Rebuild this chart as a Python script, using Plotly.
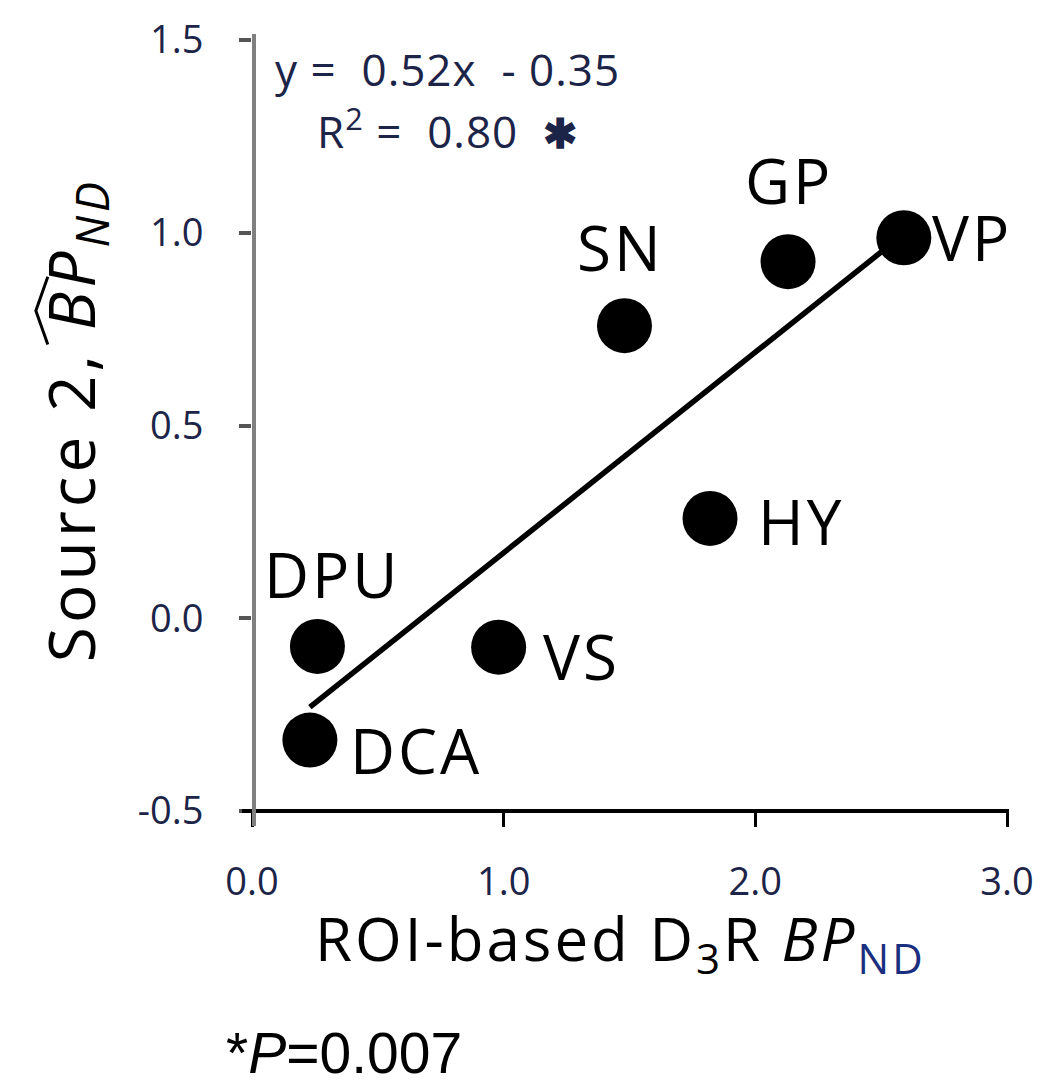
import plotly.graph_objects as go

# Regional binding potentials
regions = ["DCA", "DPU", "VS", "SN", "HY", "GP", "VP"]
roi_bp = [0.23, 0.26, 0.98, 1.48, 1.82, 2.13, 2.59]
source2_bp = [-0.316, -0.073, -0.075, 0.759, 0.259, 0.925, 0.987]

# Label placement (pixel offsets from each marker)
label_dx = [106, 15, 83, -4, 91, 1, 68]
label_dy = [-10, 72, -9, 79, -3, 82, 1]

# Linear fit reported on the chart
slope = 0.52
intercept = -0.35
r_squared = 0.80

x_ticks = [0.0, 1.0, 2.0, 3.0]
y_ticks = [-0.5, 0.0, 0.5, 1.0, 1.5]

W, H = 1046, 1084
ML, MR, MT, MB = 252, 36, 39, 273
PW, PH = W - ML - MR, H - MT - MB

def px_x(p):
    return (p - ML) / PW

def px_y(p):
    return (H - MB - p) / PH

def spaced(text, px):
    return f"<span style='letter-spacing:{px}px'>{text}</span>"

NAVY = "#1c2448"
FONT = "Open Sans"

fig = go.Figure()

x0, x1 = min(roi_bp), max(roi_bp)
fig.add_trace(go.Scatter(
    x=[x0, x1], y=[slope * x0 + intercept, slope * x1 + intercept],
    mode="lines", line=dict(color="black", width=5.5), hoverinfo="skip",
))
fig.add_trace(go.Scatter(
    x=roi_bp, y=source2_bp, mode="markers",
    marker=dict(color="black", size=55, line=dict(width=0)),
))

for name, xv, yv, dx, dy in zip(regions, roi_bp, source2_bp, label_dx, label_dy):
    fig.add_annotation(x=xv, y=yv, text=spaced(name, 3), showarrow=True,
                       arrowcolor="rgba(0,0,0,0)", ax=dx, ay=-dy,
                       font=dict(family=FONT, size=62, color="black"))

# Regression equation
sp = "\u00a0"
eq = f"y{sp}={sp}{sp}{slope:.2f}x{sp}{sp}-{sp}{-intercept:.2f}"
fig.add_annotation(xref="paper", yref="paper", x=px_x(273), y=px_y(68), xanchor="left",
                   yanchor="middle", text=spaced(eq, 1), showarrow=False,
                   font=dict(family=FONT, size=44, color=NAVY))
star = "<span style='font-size:41px'><b>✱</b></span>"
fig.add_annotation(xref="paper", yref="paper", x=px_x(315), y=px_y(128), xanchor="left",
                   yanchor="middle",
                   text=spaced(f"R<sup>2</sup>{sp}={sp}{sp}{r_squared:.2f}{sp}{sp}{star}", 1),
                   showarrow=False, font=dict(family=FONT, size=44, color=NAVY))

# Axis titles
fig.add_annotation(xref="paper", yref="paper", x=px_x(622), y=px_y(942), xanchor="center",
                   yanchor="middle", showarrow=False,
                   text=spaced("ROI-based D<sub>3</sub>R <i>BP</i><sub><span style='color:#1a2f80'>ND</span></sub>", 3),
                   font=dict(family=FONT, size=60, color="black"))
fig.add_annotation(xref="paper", yref="paper", x=px_x(73), y=px_y(420), xanchor="center",
                   yanchor="middle", textangle=-90, showarrow=False,
                   text=spaced("Source 2, <i>BP</i><sub><i>ND</i></sub>", 4),
                   font=dict(family=FONT, size=64, color="black"))
# wide hat over BP
fig.add_shape(type="path", xref="paper", yref="paper",
              path=f"M {px_x(47)} {px_y(344)} L {px_x(35)} {px_y(310)} L {px_x(47)} {px_y(276)}",
              line=dict(color="black", width=3))

# P-value note
fig.add_annotation(xref="paper", yref="paper", x=px_x(224), y=px_y(1053), xanchor="left",
                   yanchor="middle", showarrow=False, text="*<i>P</i>=0.007",
                   font=dict(family="Liberation Sans", size=57, color="black"))

# Axis lines
fig.add_shape(type="line", xref="paper", yref="paper", x0=px_x(242), x1=px_x(1012),
              y0=0, y1=0, line=dict(color="black", width=4))
fig.add_shape(type="line", xref="x", yref="paper", x0=0, x1=0,
              y0=px_y(826), y1=px_y(33), line=dict(color="#808080", width=8))

fig.update_layout(
    width=W, height=H, margin=dict(l=ML, r=MR, t=MT, b=MB),
    paper_bgcolor="white", plot_bgcolor="white", showlegend=False,
    xaxis=dict(range=[0, 3], tickvals=x_ticks, ticktext=[f"{v:.1f}" for v in x_ticks],
               showgrid=False, zeroline=False, showline=False,
               ticks="outside", ticklen=15, tickwidth=3, tickcolor="black",
               ticklabelstandoff=22, tickfont=dict(family=FONT, size=38, color=NAVY)),
    yaxis=dict(range=[-0.5, 1.5], tickvals=y_ticks, ticktext=[f"{v:.1f}" for v in y_ticks],
               showgrid=False, zeroline=False, showline=False,
               ticks="outside", ticklen=12, tickwidth=4, tickcolor="#555555",
               ticklabelstandoff=28, tickfont=dict(family=FONT, size=38, color=NAVY)),
)

fig.write_html("out.html")
